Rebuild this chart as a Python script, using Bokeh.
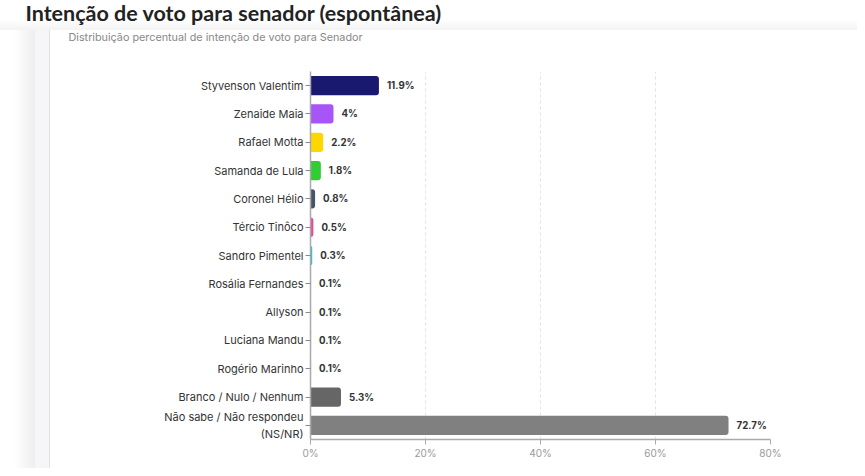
from bokeh.plotting import figure
from bokeh.models import Range1d, FactorRange, FixedTicker, PrintfTickFormatter, ColumnDataSource, Title
from bokeh.core.properties import value
from bokeh.embed import file_html
from bokeh.resources import INLINE

title_text = "Intenção de voto para senador (espontânea)"
subtitle_text = "Distribuição percentual de intenção de voto para Senador"

categories = [
    "Styvenson Valentim",
    "Zenaide Maia",
    "Rafael Motta",
    "Samanda de Lula",
    "Coronel Hélio",
    "Tércio Tinôco",
    "Sandro Pimentel",
    "Rosália Fernandes",
    "Allyson",
    "Luciana Mandu",
    "Rogério Marinho",
    "Branco / Nulo / Nenhum",
    "Não sabe / Não respondeu\n(NS/NR)",
]
values = [11.9, 4, 2.2, 1.8, 0.8, 0.5, 0.3, 0.1, 0.1, 0.1, 0.1, 5.3, 72.7]
colors = [
    "#191970", "#a855f7", "#ffd700", "#32cd32", "#475569", "#ec4899",
    "#22c1dc", "#e3a07a", "#e8c37a", "#b39ddb", "#8fb9a8", "#666666", "#808080",
]
x_ticks = [0, 20, 40, 60, 80]
labels = [f"{v:g}%" for v in values]

W, H = 857, 468

card_bg = ", ".join([
    "linear-gradient(to bottom, #ffffff 0px, #ffffff 19px, #f3f3f4 30px, rgba(255,255,255,0) 30px)",
    "linear-gradient(to right, #ffffff 14px, #eeeef0 35px, #f6f6f8 35px, #f6f6f8 49px, "
    "#e2e2e4 49px, #e2e2e4 50px, #ffffff 50px)",
])

p = figure(width=W, height=H, output_backend="svg", toolbar_location=None, tools="",
           y_range=FactorRange(factors=categories[::-1]), x_range=Range1d(0, 80),
           min_border_left=310, min_border_right=87, min_border_top=71, min_border_bottom=29,
           styles={"background-image": card_bg, "background-color": "#ffffff"})
p.background_fill_color = "white"
p.border_fill_color = None
p.outline_line_color = None

src = ColumnDataSource(dict(cat=categories, val=values, color=colors, label=labels))
p.hbar(y="cat", right="val", left=0, height=0.68, fill_color="color", line_color=None,
       source=src, border_radius=(0, 3, 3, 0))
p.text(x="val", y="cat", text="label", source=src, x_offset=8, text_baseline="middle",
       text_align="left", text_font=value("Inter"), text_font_size="9.7px",
       text_font_style="bold", text_color="#333333")

p.xaxis.ticker = FixedTicker(ticks=x_ticks)
p.xaxis.formatter = PrintfTickFormatter(format="%d%%")
p.xaxis.axis_line_color = "#aaaaaa"
p.xaxis.axis_line_width = 1.5
p.xaxis.major_tick_line_color = "#aaaaaa"
p.xaxis.major_tick_out = 5
p.xaxis.major_tick_in = 0
p.xaxis.minor_tick_line_color = None
p.xaxis.major_label_text_font = "Inter"
p.xaxis.major_label_text_font_size = "10px"
p.xaxis.major_label_text_color = "#999999"
p.xaxis.major_label_standoff = 2

p.yaxis.axis_line_color = "#aaaaaa"
p.yaxis.axis_line_width = 1.5
p.yaxis.major_tick_line_color = "#888888"
p.yaxis.major_tick_out = 5
p.yaxis.major_tick_in = 0
p.yaxis.major_label_text_font = "Inter"
p.yaxis.major_label_text_font_size = "11px"
p.yaxis.major_label_text_color = "#333333"
p.yaxis.major_label_standoff = 2

p.ygrid.grid_line_color = None
p.xgrid.grid_line_color = "#e3e3e3"
p.xgrid.grid_line_dash = "3 3"
p.xgrid.ticker = FixedTicker(ticks=x_ticks[1:])

# stacked from the frame upward: spacer, subtitle, main title
p.add_layout(Title(text=" ", align="left", standoff=8.6, text_font_size="1px"), "above")
p.add_layout(Title(text=subtitle_text, align="left", offset=-242, standoff=31,
                   text_font="Inter", text_font_size="10.8px", text_font_style="normal",
                   text_color="#888888"), "above")
p.add_layout(Title(text=title_text, align="left", offset=-285, standoff=-25,
                   text_font="Lato", text_font_size="21.5px", text_font_style="bold",
                   text_color="#222222"), "above")

open("out.html", "w").write(file_html(p, INLINE))
